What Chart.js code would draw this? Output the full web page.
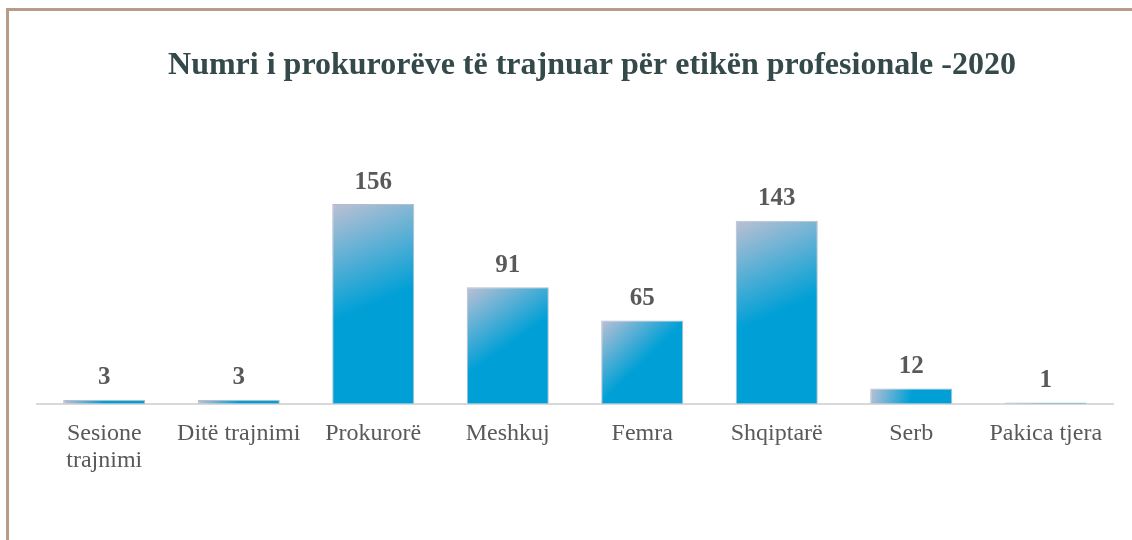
<!DOCTYPE html>
<html>
<head>
<meta charset="utf-8">
<script src="https://cdn.jsdelivr.net/npm/chart.js@4"></script>
<style>
  html, body { margin: 0; padding: 0; background: #fff; overflow: hidden; }
  body { width: 1132px; height: 540px; position: relative; }
  .frame {
    position: absolute; left: 6px; top: 8px; width: 1200px; height: 600px;
    border-left: 3px solid #b89c88; border-top: 3px solid #b89c88;
  }
  .wrap { position: absolute; left: 10px; top: 11px; width: 1164px; height: 529px; }
</style>
</head>
<body>
<div class="frame"></div>
<div class="wrap"><canvas id="chart"></canvas></div>
<script>
// Kategoritë dhe vlerat
const categories = [['Sesione', 'trajnimi'], 'Ditë trajnimi', 'Prokurorë', 'Meshkuj', 'Femra', 'Shqiptarë', 'Serb', 'Pakica tjera'];
const values = [3, 3, 156, 91, 65, 143, 12, 1];
const chartTitle = 'Numri i prokurorëve të trajnuar për etikën profesionale -2020';

const serif = '"Liberation Serif", "Times New Roman", serif';

// gradient si ne Excel: gri-kaltër lart majtas, blu poshtë
function barGradient(context) {
  const chart = context.chart;
  const xs = chart.scales.x, ys = chart.scales.y;
  if (!xs || !ys || context.dataIndex === undefined) return '#00a0d6';
  const cx = xs.getPixelForValue(context.dataIndex);
  const top = ys.getPixelForValue(values[context.dataIndex]);
  const base = ys.getPixelForValue(0);
  if (![cx, top, base].every(Number.isFinite)) return '#00a0d6';
  const w = 82;
  const h = Math.max(base - top, 1);
  const g = chart.ctx.createLinearGradient(cx - w / 2, top, cx - w / 2 + w * 0.5, top + h * 0.5);
  g.addColorStop(0, '#bcc0d4');
  g.addColorStop(1, '#00a0d6');
  return g;
}

// etiketat e vlerave mbi shtylla
const valueLabels = {
  id: 'valueLabels',
  afterDatasetsDraw(chart) {
    const ctx = chart.ctx;
    const meta = chart.getDatasetMeta(0);
    ctx.save();
    ctx.font = 'bold 25px ' + serif;
    ctx.fillStyle = '#595959';
    ctx.textAlign = 'center';
    ctx.textBaseline = 'middle';
    meta.data.forEach((bar, i) => {
      ctx.fillText(String(values[i]), bar.x, bar.y - 22);
    });
    ctx.restore();
  }
};

const ctx = document.getElementById('chart').getContext('2d');
new Chart(ctx, {
  type: 'bar',
  data: {
    labels: categories,
    datasets: [{
      data: values,
      backgroundColor: barGradient,
      borderColor: 'rgba(150,160,180,0.7)',
      borderWidth: 1,
      borderSkipped: 'bottom',
      categoryPercentage: 1,
      barPercentage: 0.61
    }]
  },
  options: {
    responsive: true,
    maintainAspectRatio: false,
    animation: false,
    layout: { padding: { left: 0, right: 0, top: 0, bottom: 49 } },
    plugins: {
      legend: { display: false },
      tooltip: { enabled: false },
      title: {
        display: true,
        text: chartTitle,
        color: '#34494a',
        font: { family: serif, size: 32, weight: 'bold' },
        padding: { top: 36, bottom: 88 }
      }
    },
    scales: {
      x: {
        grid: { display: false, drawTicks: false },
        border: { display: true, color: '#d9d9d9', width: 2 },
        ticks: {
          color: '#595959',
          font: { family: serif, size: 24, lineHeight: 1.15 },
          padding: 16,
          maxRotation: 0,
          autoSkip: false
        }
      },
      y: {
        min: 0,
        max: 180,
        grid: { display: false },
        border: { display: false },
        ticks: { display: false },
        afterFit: s => { s.width = 27; }
      },
      yRight: {
        type: 'linear',
        position: 'right',
        grid: { display: false },
        border: { display: false },
        ticks: { display: false },
        afterFit: s => { s.width = 61; }
      }
    }
  },
  plugins: [valueLabels]
});
</script>
</body>
</html>
